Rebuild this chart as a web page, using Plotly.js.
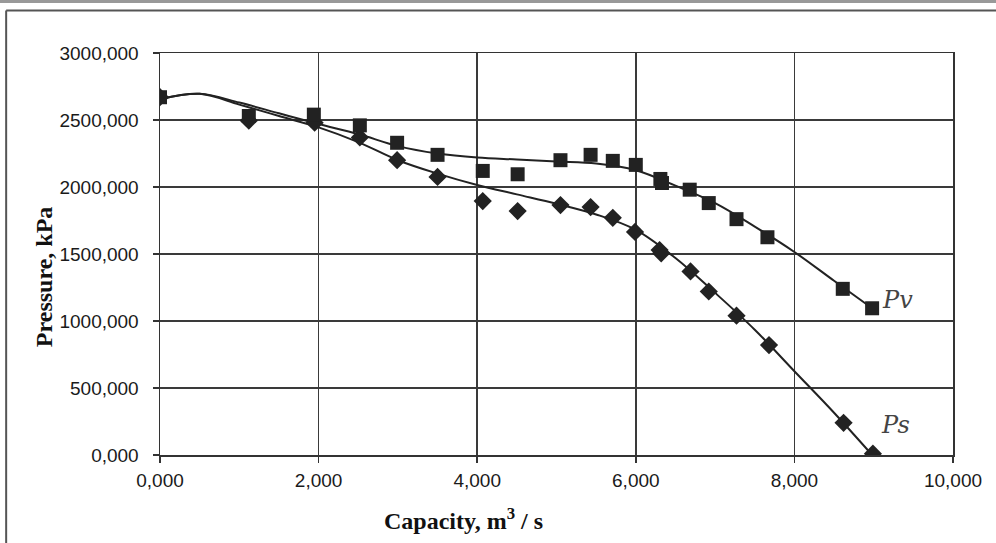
<!DOCTYPE html>
<html>
<head>
<meta charset="utf-8">
<script src="https://cdn.plot.ly/plotly-3.0.1.min.js"></script>
<style>html,body{margin:0;padding:0;background:#fff;}#chart{width:996px;height:543px;}</style>
</head>
<body>
<div id="chart"></div>
<script>
// Measured points: Pv (squares)
var pvX = [0, 1.12, 1.94, 2.52, 2.99, 3.50, 4.07, 4.51, 5.05, 5.43, 5.71, 6.00, 6.31, 6.33, 6.68, 6.92, 7.27, 7.66, 8.61, 8.98];
var pvY = [2670, 2530, 2540, 2460, 2330, 2240, 2120, 2095, 2200, 2240, 2195, 2165, 2060, 2030, 1980, 1880, 1760, 1625, 1240, 1095];
// Measured points: Ps (diamonds)
var psX = [0, 1.12, 1.95, 2.52, 2.99, 3.50, 4.07, 4.51, 5.05, 5.43, 5.71, 5.99, 6.30, 6.32, 6.69, 6.92, 7.27, 7.68, 8.62, 8.99];
var psY = [2670, 2495, 2480, 2370, 2200, 2075, 1895, 1820, 1865, 1850, 1770, 1665, 1530, 1505, 1370, 1220, 1040, 820, 240, 10];
// Trend curves
var curveX  = [0, 0.5, 1.0, 1.5, 2.0, 2.5, 3.0, 3.5, 4.0, 4.5, 5.0, 5.5, 6.0, 6.5, 7.0, 7.5, 8.0, 8.5, 8.98];
var pvCurve = [2655, 2695, 2630, 2550, 2470, 2395, 2305, 2250, 2220, 2205, 2190, 2175, 2125, 2010, 1880, 1705, 1515, 1300, 1095];
var psCurve = [2655, 2695, 2615, 2530, 2445, 2335, 2200, 2100, 2015, 1945, 1875, 1795, 1680, 1470, 1210, 935, 625, 315, 0];
// Axis ticks
var xTicks = [0, 2, 4, 6, 8, 10];
var yTicks = [0, 500, 1000, 1500, 2000, 2500, 3000];
var labels = {x: 'Capacity, m<sup>3</sup> / s', y: 'Pressure, kPa', pv: 'Pv', ps: 'Ps'};

var ink = '#222';
var traces = [
  {x: curveX, y: pvCurve, mode: 'lines', line: {color: ink, width: 2, shape: 'spline', smoothing: 1}, hoverinfo: 'skip'},
  {x: curveX, y: psCurve, mode: 'lines', line: {color: ink, width: 2, shape: 'spline', smoothing: 1}, hoverinfo: 'skip'},
  {x: psX, y: psY, mode: 'markers', marker: {symbol: 'diamond', size: 14, color: ink}},
  {x: pvX, y: pvY, mode: 'markers', marker: {symbol: 'square', size: 14, color: ink}}
];

var axisCommon = {
  showgrid: true, gridcolor: '#3a3a3a', gridwidth: 1.5,
  showline: true, linecolor: '#333', linewidth: 1.5, mirror: true,
  zeroline: false, ticks: 'outside', ticklen: 6, tickcolor: '#333', tickwidth: 1.5,
  tickformat: '.3f',
  tickfont: {family: 'Liberation Sans, Arial, sans-serif', size: 19, color: '#1a1a1a'}
};

var layout = {
  width: 996, height: 543,
  margin: {l: 160, r: 43, t: 53, b: 88},
  paper_bgcolor: '#fff', plot_bgcolor: '#fff',
  showlegend: false,
  separators: ',.',
  xaxis: Object.assign({}, axisCommon, {range: [0, 10], tickvals: xTicks, ticklabelstandoff: 2}),
  yaxis: Object.assign({}, axisCommon, {range: [0, 3000], tickvals: yTicks, ticklabelstandoff: 10}),
  annotations: [
    {xref: 'paper', yref: 'paper', x: 0.3825, y: -0.158, xanchor: 'center', yanchor: 'middle', showarrow: false,
     text: labels.x, font: {family: 'Liberation Serif, Times New Roman, serif', size: 24, color: '#111', weight: 'bold'}},
    {xref: 'paper', yref: 'paper', x: -0.146, y: 0.443, xanchor: 'center', yanchor: 'middle', showarrow: false, textangle: -90,
     text: labels.y, font: {family: 'Liberation Serif, Times New Roman, serif', size: 24, color: '#111', weight: 'bold'}},
    {xref: 'x', yref: 'y', x: 9.3, y: 1160, xanchor: 'center', yanchor: 'middle', showarrow: false,
     text: labels.pv, font: {family: 'DejaVu Serif, serif', size: 24, color: '#444', style: 'italic'}},
    {xref: 'x', yref: 'y', x: 9.28, y: 225, xanchor: 'center', yanchor: 'middle', showarrow: false,
     text: labels.ps, font: {family: 'DejaVu Serif, serif', size: 24, color: '#444', style: 'italic'}}
  ],
  shapes: [
    {type: 'line', xref: 'paper', yref: 'paper', x0: -0.21, x1: 1.06, y0: 1.128, y1: 1.128, line: {color: '#999', width: 3}},
    {type: 'line', xref: 'paper', yref: 'paper', x0: -0.194, x1: 1.06, y0: 1.106, y1: 1.106, line: {color: '#555', width: 2}},
    {type: 'line', xref: 'paper', yref: 'paper', x0: -0.194, x1: -0.194, y0: 1.106, y1: -0.23, line: {color: '#555', width: 2}}
  ]
};

Plotly.newPlot('chart', traces, layout, {displayModeBar: false, staticPlot: true});
</script>
</body>
</html>
